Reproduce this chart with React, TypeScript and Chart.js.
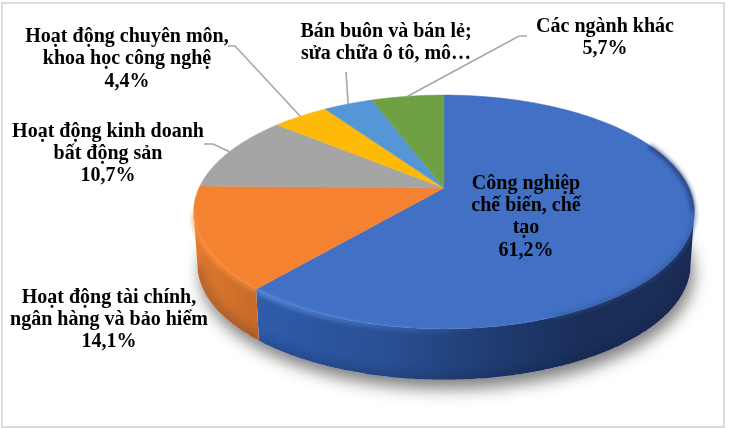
import React, { useEffect, useRef } from 'react';
import Chart from 'chart.js/auto';

const categories = [
  'Công nghiệp chế biến, chế tạo',
  'Hoạt động tài chính, ngân hàng và bảo hiểm',
  'Hoạt động kinh doanh bất động sản',
  'Hoạt động chuyên môn, khoa học công nghệ',
  'Bán buôn và bán lẻ; sửa chữa ô tô, mô…',
  'Các ngành khác',
];
const shares = [61.2, 14.1, 10.7, 4.4, 3.9, 5.7];
const sliceColors = ['#4170c4', '#f58231', '#a5a5a5', '#ffb908', '#5596d6', '#70a044'];

// wrapped label text, the percent line is appended from shares
const labelLines = [
  ['Công nghiệp', 'chế biến, chế', 'tạo'],
  ['Hoạt động tài chính,', 'ngân hàng và bảo hiểm'],
  ['Hoạt động kinh doanh', 'bất động sản'],
  ['Hoạt động chuyên môn,', 'khoa học công nghệ'],
  ['Bán buôn và bán lẻ;', 'sửa chữa ô tô, mô…'],
  ['Các ngành khác'],
];
const showPercent = [true, true, true, true, false, true];
const labelCenterX = [526, 109, 108, 127, 386, 605];
const labelFirstLineY = [183.5, 297.5, 131.5, 37, 31.5, 27];
const LINE_HEIGHT = 22.3;

// leader line: polyline start points per slice, the end sits on the slice rim
const leaderStarts: (number[][] | null)[] = [
  null,
  null,
  [[204, 144], [213, 144]],
  [[228, 46], [235, 46]],
  [[346, 72]],
  [[527, 36], [519, 36]],
];

// perspective of the disc, fitted on the picture
const APEX_X = 444;
const APEX_Y = 188;
const RADIUS_X = 245;
const RADIUS_Y = 112;
const TILT = 0.205;
const DEPTH = 53;
const BASE_SCALE = 0.985;

const project = (a: number, drop = 0, scale = 1): [number, number] => {
  const u = Math.cos(a);
  const v = Math.sin(a);
  const d = 1 - TILT * v;
  return [APEX_X + (RADIUS_X * scale * u) / d, APEX_Y + drop + (RADIUS_Y * scale * v) / d];
};

const rimPath = (ctx: CanvasRenderingContext2D, from: number, to: number, drop = 0, scale = 1, move = false) => {
  const steps = Math.max(2, Math.ceil(Math.abs(to - from) / 0.01));
  for (let i = 0; i <= steps; i++) {
    const [x, y] = project(from + ((to - from) * i) / steps, drop, scale);
    if (i === 0 && move) ctx.moveTo(x, y);
    else ctx.lineTo(x, y);
  }
};

const pie3d = {
  id: 'pie3d',
  beforeDatasetDraw(chart: any) {
    const ctx: CanvasRenderingContext2D = chart.ctx;
    const arcs = chart.getDatasetMeta(0).data;
    const right = Math.asin(TILT);
    const left = Math.PI - right;

    // soft shadow under the base
    ctx.save();
    ctx.shadowColor = 'rgba(0,0,0,0.5)';
    ctx.shadowBlur = 16;
    ctx.shadowOffsetY = 9;
    ctx.shadowOffsetX = 3;
    ctx.fillStyle = '#fff';
    ctx.beginPath();
    rimPath(ctx, 0, Math.PI * 2, DEPTH, BASE_SCALE, true);
    ctx.closePath();
    ctx.fill();
    ctx.restore();

    // side wall
    const sideStops: [number, string][][] = [
      [[0, '#2f5cab'], [0.3, '#2a4f94'], [0.55, '#1f3b70'], [0.75, '#1a2e59'], [1, '#1a2d57']],
      [[0, '#e27a2d'], [1, '#c76b28']],
    ];
    arcs.forEach((arc: any, i: number) => {
      const from = Math.max(arc.startAngle, right);
      const to = Math.min(arc.endAngle, left);
      if (from >= to) return;
      const [x0] = project(to);
      const [x1] = project(from);
      const g = ctx.createLinearGradient(Math.min(x0, x1), 0, Math.max(x0, x1), 0);
      const stops = sideStops[i] || [[0, sliceColors[i]], [1, sliceColors[i]]];
      stops.forEach((s) => g.addColorStop(s[0], s[1]));
      ctx.fillStyle = g;
      ctx.beginPath();
      rimPath(ctx, from, to, 0, 1, true);
      rimPath(ctx, to, from, DEPTH, BASE_SCALE);
      ctx.closePath();
      ctx.fill();
      // wall gets darker toward the bottom edge
      ctx.save();
      ctx.clip();
      ctx.filter = 'blur(5px)';
      ctx.lineWidth = 12;
      ctx.strokeStyle = 'rgba(15,25,55,0.22)';
      ctx.beginPath();
      rimPath(ctx, from, to, DEPTH, BASE_SCALE, true);
      ctx.stroke();
      ctx.restore();
    });

    // top face
    arcs.forEach((arc: any, i: number) => {
      ctx.fillStyle = sliceColors[i];
      ctx.strokeStyle = sliceColors[i];
      ctx.lineWidth = 0.5;
      ctx.beginPath();
      ctx.moveTo(APEX_X, APEX_Y);
      rimPath(ctx, arc.startAngle, arc.endAngle);
      ctx.closePath();
      ctx.fill();
      ctx.stroke();
    });

    // bevel on the rim: dark on the right, light on the front left
    ctx.save();
    ctx.filter = 'blur(2px)';
    ctx.lineWidth = 4;
    ctx.beginPath();
    rimPath(ctx, right, -0.42, 0, 0.995, true);
    ctx.strokeStyle = 'rgba(26,46,90,0.75)';
    ctx.stroke();
    const blueEnd = arcs[0].endAngle;
    const [bx] = project(blueEnd);
    const glow = ctx.createLinearGradient(bx, 0, APEX_X + 40, 0);
    glow.addColorStop(0, 'rgba(110,160,240,0.9)');
    glow.addColorStop(1, 'rgba(110,160,240,0)');
    ctx.lineWidth = 3;
    ctx.beginPath();
    rimPath(ctx, blueEnd, 1.2, 1.5, 1, true);
    ctx.strokeStyle = glow;
    ctx.stroke();
    ctx.lineWidth = 3;
    ctx.beginPath();
    rimPath(ctx, 1.2, right, 0, 1, true);
    ctx.strokeStyle = 'rgba(50,85,150,0.8)';
    ctx.stroke();
    ctx.beginPath();
    rimPath(ctx, arcs[1].startAngle, left, 1.5, 1, true);
    ctx.strokeStyle = 'rgba(250,150,70,0.9)';
    ctx.stroke();
    ctx.restore();

    return false;
  },
  afterDraw(chart: any) {
    const ctx: CanvasRenderingContext2D = chart.ctx;
    const arcs = chart.getDatasetMeta(0).data;
    ctx.save();

    // leader lines
    ctx.strokeStyle = '#a6a6a6';
    ctx.lineWidth = 1.6;
    leaderStarts.forEach((pts, i) => {
      if (!pts) return;
      const [ex, ey] = project((arcs[i].startAngle + arcs[i].endAngle) / 2);
      ctx.beginPath();
      pts.forEach(([x, y], k) => (k === 0 ? ctx.moveTo(x, y) : ctx.lineTo(x, y)));
      ctx.lineTo(ex, ey);
      ctx.stroke();
    });

    // labels
    ctx.fillStyle = '#000';
    ctx.font = 'bold 20px "Liberation Serif"';
    ctx.textAlign = 'center';
    ctx.textBaseline = 'middle';
    categories.forEach((_, i) => {
      const lines = [...labelLines[i]];
      if (showPercent[i]) lines.push(shares[i].toFixed(1).replace('.', ',') + '%');
      lines.forEach((line, k) => ctx.fillText(line, labelCenterX[i], labelFirstLineY[i] + k * LINE_HEIGHT));
    });
    ctx.restore();
  },
};

export default function App() {
  const canvasRef = useRef<HTMLCanvasElement>(null);

  useEffect(() => {
    if (!canvasRef.current) return;
    const chart = new Chart(canvasRef.current, {
      type: 'pie',
      data: {
        labels: categories,
        datasets: [{ data: shares, backgroundColor: sliceColors, borderWidth: 0 }],
      },
      options: {
        animation: false,
        responsive: false,
        devicePixelRatio: 1,
        plugins: { legend: { display: false }, tooltip: { enabled: false } },
      },
      plugins: [pie3d as any],
    });
    return () => chart.destroy();
  }, []);

  return (
    <div style={{ position: 'fixed', left: 0, top: 0, width: 748, height: 428, background: '#fff' }}>
      <canvas
        ref={canvasRef}
        width={748}
        height={428}
        style={{ position: 'absolute', left: 0, top: 0, display: 'block', filter: 'blur(0.4px)' }}
      />
      <div
        style={{
          position: 'absolute',
          left: 1,
          top: 2,
          width: 720,
          height: 422,
          border: '2px solid #dcdcdc',
          pointerEvents: 'none',
        }}
      />
    </div>
  );
}
